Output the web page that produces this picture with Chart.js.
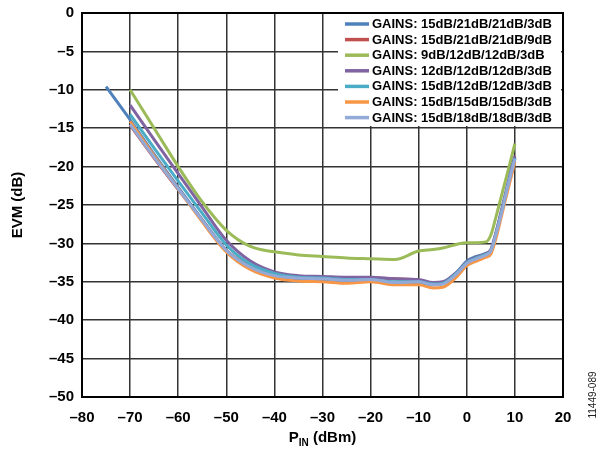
<!DOCTYPE html>
<html><head><meta charset="utf-8">
<script src="https://cdn.jsdelivr.net/npm/chart.js@4.4.1/dist/chart.umd.min.js"></script>
<style>html,body{margin:0;padding:0;background:#fff}#wrap{width:604px;height:451px;position:relative}</style>
</head><body><div id="wrap"><canvas id="c" width="604" height="451"></canvas></div>
<script>
// ---- data ----
const seriesLabels = [
  'GAINS: 15dB/21dB/21dB/3dB',
  'GAINS: 15dB/21dB/21dB/9dB',
  'GAINS: 9dB/12dB/12dB/3dB',
  'GAINS: 12dB/12dB/12dB/3dB',
  'GAINS: 15dB/12dB/12dB/3dB',
  'GAINS: 15dB/15dB/15dB/3dB',
  'GAINS: 15dB/18dB/18dB/3dB'
];
const seriesColors = ['#4F81BD','#C0504D','#9BBB59','#8064A2','#4BACC6','#F79646','#93A9D7'];

const pinLong  = [-75,-70,-65,-60,-55,-50,-45,-40,-35,-30,-25,-20,-15,-10,-7,-5,-2,0,2,4,5,6,7,8,9,10];
const pinShort = [-70,-65,-60,-55,-50,-45,-40,-35,-30,-25,-20,-15,-10,-7,-5,-2,0,2,4,5,6,7,8,9,10];

const evm15_21_21_3 = [-9.6,-13.9,-18.4,-22.7,-26.9,-30.9,-33.2,-34.3,-34.6,-34.7,-34.9,-34.8,-35.1,-35.1,-35.4,-35.2,-33.7,-32.3,-31.7,-31.3,-30.9,-28.9,-26.5,-23.9,-21.4,-19.0];
const evm15_21_21_9 = [-14.6,-18.9,-23.0,-27.0,-30.9,-33.0,-34.1,-34.4,-34.5,-34.6,-34.5,-34.6,-34.8,-35.2,-35.1,-33.8,-32.5,-31.9,-31.4,-31.0,-29.0,-26.5,-23.9,-21.3,-18.8];
const evm9_12_12_3  = [-10.0,-15.0,-20.0,-24.6,-28.3,-30.4,-31.1,-31.5,-31.7,-31.9,-32.0,-32.1,-31.0,-30.8,-30.6,-30.1,-29.9,-29.9,-29.8,-28.9,-26.7,-24.3,-21.9,-19.5,-17.0];
const evm12_12_12_3 = [-12.0,-16.5,-20.9,-25.3,-29.6,-32.3,-33.7,-34.2,-34.3,-34.4,-34.4,-34.6,-34.7,-35.1,-35.0,-33.7,-32.4,-31.8,-31.3,-30.8,-28.7,-26.2,-23.6,-21.0,-18.6];
const evm15_12_12_3 = [-13.2,-17.6,-21.9,-26.1,-30.2,-32.7,-33.9,-34.4,-34.5,-34.7,-34.7,-35.0,-35.0,-35.3,-35.2,-33.8,-32.5,-31.9,-31.4,-31.0,-29.0,-26.5,-23.9,-21.3,-18.9];
const evm15_15_15_3 = [-14.1,-18.6,-22.9,-27.2,-31.1,-33.4,-34.5,-34.9,-35.0,-35.2,-35.0,-35.4,-35.4,-35.8,-35.7,-34.3,-32.9,-32.3,-31.8,-31.4,-29.5,-27.0,-24.4,-21.9,-19.4];
const evm15_18_18_3 = [-14.5,-18.8,-22.9,-27.0,-30.9,-33.1,-34.2,-34.5,-34.6,-34.8,-34.7,-35.1,-35.0,-35.4,-35.3,-33.9,-32.6,-32.0,-31.5,-31.0,-29.0,-26.6,-24.0,-21.4,-19.0];

const seriesX = [pinLong, pinShort, pinShort, pinShort, pinShort, pinShort, pinShort];
const seriesY = [evm15_21_21_3, evm15_21_21_9, evm9_12_12_3, evm12_12_12_3, evm15_12_12_3, evm15_15_15_3, evm15_18_18_3];

const xMin = -80, xMax = 20, xStep = 10;
const yMin = -50, yMax = 0, yStep = 5;

// ---- chart ----
const FONT = "'Liberation Sans', Arial, sans-serif";
const dash = v => (v < 0 ? '\u2013' + Math.abs(v) : String(v));

// build datasets, reversed so the last series is drawn on top
const datasets = seriesLabels.map((lab, i) => ({
  label: lab,
  data: seriesX[i].map((x, j) => ({x: x, y: seriesY[i][j]})),
  borderColor: seriesColors[i],
  backgroundColor: seriesColors[i],
  borderWidth: 3,
  pointRadius: 0,
  fill: false,
  cubicInterpolationMode: 'monotone'
})).reverse();

const decor = {
  id: 'decor',
  beforeDatasetsDraw(chart) {
    const ctx = chart.ctx, a = chart.chartArea;
    ctx.save();
    ctx.fillStyle = '#fff';
    ctx.fillRect(338, a.top + 1, a.right - 2 - 338, 112);
    ctx.restore();
  },
  afterDraw(chart) {
    const ctx = chart.ctx, a = chart.chartArea;
    ctx.save();
    // frame
    ctx.strokeStyle = '#000';
    ctx.lineWidth = 2;
    ctx.strokeRect(a.left, a.top, a.right - a.left, a.bottom - a.top);
    // legend
    ctx.font = 'bold 13px ' + FONT;
    ctx.textBaseline = 'middle';
    ctx.textAlign = 'left';
    seriesLabels.forEach((lab, i) => {
      const y = a.top + 11 + i * 15.6;
      ctx.strokeStyle = seriesColors[i];
      ctx.lineWidth = 3.5;
      ctx.beginPath(); ctx.moveTo(345, y); ctx.lineTo(369, y); ctx.stroke();
      ctx.fillStyle = '#000';
      ctx.fillText(lab, 372, y + 0.5);
    });
    // y title
    ctx.save();
    ctx.translate(18, (a.top + a.bottom) / 2);
    ctx.rotate(-Math.PI / 2);
    ctx.textAlign = 'center';
    ctx.textBaseline = 'middle';
    ctx.font = 'bold 15px ' + FONT;
    ctx.fillText('EVM (dB)', 0, 0);
    ctx.restore();
    // x title with subscript
    const cx = (a.left + a.right) / 2, by = 442;
    const f1 = 'bold 15px ' + FONT, f2 = 'bold 10px ' + FONT;
    ctx.font = f1; const wP = ctx.measureText('P').width; const wR = ctx.measureText(' (dBm)').width;
    ctx.font = f2; const wS = ctx.measureText('IN').width;
    let x0 = cx - (wP + wS + wR) / 2;
    ctx.textAlign = 'left'; ctx.textBaseline = 'alphabetic'; ctx.fillStyle = '#000';
    ctx.font = f1; ctx.fillText('P', x0, by);
    ctx.font = f2; ctx.fillText('IN', x0 + wP, by + 4);
    ctx.font = f1; ctx.fillText(' (dBm)', x0 + wP + wS, by);
    // figure id
    ctx.save();
    ctx.translate(593, 395);
    ctx.rotate(-Math.PI / 2);
    ctx.textAlign = 'center'; ctx.textBaseline = 'middle';
    ctx.font = '10px ' + FONT; ctx.fillStyle = '#222';
    ctx.fillText('11449-089', 0, 0);
    ctx.restore();
    ctx.restore();
  }
};

new Chart(document.getElementById('c'), {
  type: 'line',
  data: { datasets: datasets },
  options: {
    responsive: false,
    animation: false,
    devicePixelRatio: 1,
    layout: { padding: { top: 13, right: 41, left: 0, bottom: 0 } },
    plugins: { legend: { display: false }, tooltip: { enabled: false } },
    scales: {
      x: {
        type: 'linear', min: xMin, max: xMax,
        afterFit: s => { s.height = 54; s.paddingLeft = 0; s.paddingRight = 0; },
        ticks: { stepSize: xStep, padding: 12, color: '#000', font: { family: FONT, size: 15, weight: 'bold' }, callback: dash, maxRotation: 0 },
        grid: { color: '#333', lineWidth: 1.5, drawTicks: false },
        border: { color: '#000', width: 2 }
      },
      y: {
        type: 'linear', min: yMin, max: yMax,
        afterFit: s => { s.width = 82; s.paddingTop = 0; s.paddingBottom = 0; },
        ticks: { stepSize: yStep, padding: 8, color: '#000', font: { family: FONT, size: 15, weight: 'bold' }, callback: dash },
        grid: { color: '#333', lineWidth: 1.5, drawTicks: false },
        border: { color: '#000', width: 2 }
      }
    }
  },
  plugins: [decor]
});
</script></body></html>
